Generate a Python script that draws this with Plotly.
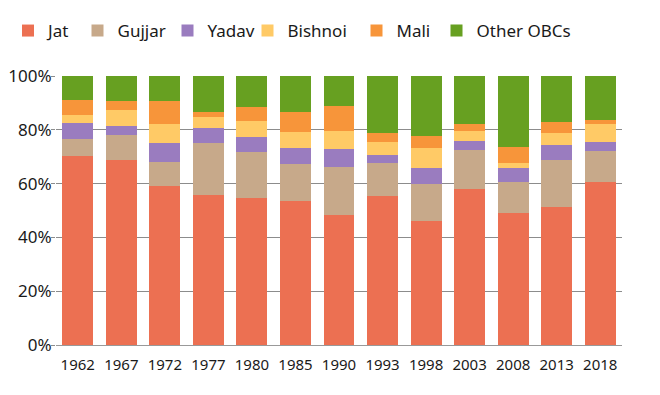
import plotly.graph_objects as go

years = ["1962", "1967", "1972", "1977", "1980", "1985", "1990", "1993", "1998", "2003", "2008", "2013", "2018"]
jat = [70.4, 68.8, 59.2, 55.8, 54.8, 53.7, 48.4, 55.5, 46.2, 58.0, 49.2, 51.4, 60.7]
gujjar = [6.2, 9.4, 8.9, 19.4, 17.1, 13.6, 17.9, 12.3, 13.5, 14.5, 11.5, 17.4, 11.5]
yadav = [5.8, 3.2, 6.9, 5.6, 5.5, 5.8, 6.4, 2.8, 6.0, 3.3, 5.0, 5.5, 3.4]
bishnoi = [3.1, 6.0, 7.0, 4.1, 5.9, 5.9, 6.7, 4.9, 7.7, 3.8, 1.8, 4.4, 6.6]
mali = [5.6, 3.4, 8.7, 1.8, 5.3, 7.7, 9.6, 3.2, 4.4, 2.6, 6.2, 4.3, 1.4]
other = [8.9, 9.2, 9.3, 13.3, 11.4, 13.3, 11.0, 21.3, 22.2, 17.8, 26.3, 17.0, 16.4]
y_ticks = [0, 20, 40, 60, 80, 100]
y_tick_labels = ["0%", "20%", "40%", "60%", "80%", "100%"]

series = [
    ("Jat", jat, "#EC7052"),
    ("Gujjar", gujjar, "#C7A98A"),
    ("Yadav", yadav, "#9A7CBF"),
    ("Bishnoi", bishnoi, "#FFCA66"),
    ("Mali", mali, "#F7953A"),
    ("Other OBCs", other, "#67A021"),
]

# page has an 8px body margin; figure sized so plot area lands where the reference has it
OFF = 8
W, H = 660 - OFF, 395 - OFF
ML, MR, MT, MB = 56 - OFF, 38, 76 - OFF, 50

FONT = "Noto Sans, Roboto, sans-serif"

# legend swatch centres (page px) in the reference
legend_sym_px = [27, 101.5, 191.5, 271.5, 380.5, 460.5]
legend_y_px = 31

fig = go.Figure()
layout_legends = {}
for i, (name, vals, col) in enumerate(series):
    key = "legend" if i == 0 else f"legend{i+1}"
    fig.add_trace(go.Bar(
        x=years, y=vals, name=name, marker=dict(color=col, line=dict(width=0)),
        legend=key, hoverinfo="skip",
    ))
    left_px = max(0, legend_sym_px[i] - OFF - 20 - 4)
    layout_legends[key] = dict(
        xref="container", yref="container",
        x=left_px / W, xanchor="left",
        y=1 - (legend_y_px - OFF) / H, yanchor="middle",
        orientation="h", bgcolor="rgba(0,0,0,0)",
        font=dict(family=FONT, size=17, color="#1a1a1a"),
    )

fig.update_layout(
    width=W, height=H,
    margin=dict(l=ML, r=MR, t=MT, b=MB, autoexpand=False),
    barmode="stack", bargap=0.29,
    plot_bgcolor="white", paper_bgcolor="white",
    showlegend=True,
    **layout_legends,
    xaxis=dict(
        type="category", categoryorder="array", categoryarray=years,
        showgrid=False, showline=True, linecolor="#999999", linewidth=1,
        ticks="", ticklabelstandoff=6, tickangle=0, automargin=False,
        tickfont=dict(family=FONT, size=15, color="#1a1a1a"),
        range=[-0.5, len(years) - 0.5],
    ),
    xaxis2=dict(
        overlaying="x", anchor="y", side="bottom", type="linear",
        range=[-0.5, len(years) - 0.5],
        tickvals=[i + 0.5 for i in range(len(years) - 1)],
        ticks="outside", ticklen=26, tickcolor="#444444", tickwidth=1,
        showticklabels=False, showgrid=False, showline=False, zeroline=False,
    ),
    yaxis=dict(
        range=[0, 100], tickvals=y_ticks, ticktext=y_tick_labels,
        showgrid=True, gridcolor="#8c8c8c", gridwidth=1,
        ticks="outside", ticklen=4, tickcolor="#8c8c8c",
        zeroline=False, showline=False, automargin=False,
        ticklabelstandoff=-4,
        tickfont=dict(family=FONT, size=17, color="#1a1a1a"),
    ),
)

fig.write_html("out.html")
